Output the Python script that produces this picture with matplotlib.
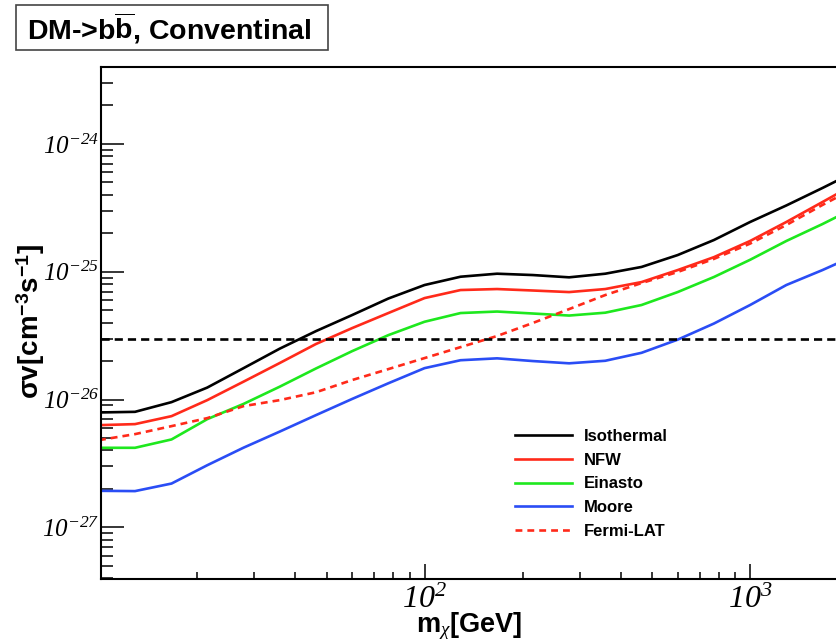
import numpy as np
import matplotlib
matplotlib.use('Agg')
from matplotlib import pyplot as plt
from matplotlib.patches import Rectangle

plt.rcParams['font.family'] = ['Liberation Sans', 'DejaVu Sans']
plt.rcParams['mathtext.fontset'] = 'custom'
plt.rcParams['mathtext.rm'] = 'Liberation Serif:italic'
plt.rcParams['mathtext.bf'] = 'Liberation Sans:bold'
plt.rcParams['mathtext.it'] = 'Liberation Serif:italic'

# DM mass points [GeV]
mass = [10, 12.9, 16.7, 21.5, 27.8, 35.9, 46.4, 59.9, 77.4, 100, 129, 167,
        215, 278, 359, 464, 599, 774, 1000, 1292, 1668, 2154]

# <sigma v> limits [cm^3 s^-1]
isothermal = [7.92e-27, 8.01e-27, 9.54e-27, 1.24e-26, 1.76e-26, 2.50e-26, 3.43e-26,
              4.58e-26, 6.17e-26, 7.87e-26, 9.14e-26, 9.65e-26, 9.42e-26, 9.04e-26,
              9.65e-26, 1.09e-25, 1.35e-25, 1.77e-25, 2.45e-25, 3.30e-25, 4.52e-25, 6.26e-25]
nfw = [6.30e-27, 6.42e-27, 7.41e-27, 9.89e-27, 1.38e-26, 1.93e-26, 2.72e-26,
       3.62e-26, 4.75e-26, 6.22e-26, 7.19e-26, 7.32e-26, 7.13e-26, 6.93e-26,
       7.32e-26, 8.30e-26, 1.03e-25, 1.30e-25, 1.74e-25, 2.45e-25, 3.51e-25, 5.04e-25]
einasto = [4.19e-27, 4.19e-27, 4.87e-27, 7.02e-27, 9.24e-27, 1.26e-26, 1.75e-26,
           2.39e-26, 3.19e-26, 4.06e-26, 4.75e-26, 4.88e-26, 4.71e-26, 4.54e-26,
           4.78e-26, 5.49e-26, 6.93e-26, 9.09e-26, 1.24e-25, 1.74e-25, 2.36e-25, 3.27e-25]
moore = [1.93e-27, 1.92e-27, 2.20e-27, 3.06e-27, 4.20e-27, 5.61e-27, 7.55e-27,
         1.01e-26, 1.34e-26, 1.76e-26, 2.03e-26, 2.10e-26, 2.00e-26, 1.92e-26,
         2.01e-26, 2.32e-26, 2.94e-26, 3.93e-26, 5.49e-26, 7.87e-26, 1.03e-25, 1.38e-25]
fermi = [4.81e-27, 5.36e-27, 6.19e-27, 7.15e-27, 8.88e-27, 9.89e-27, 1.14e-26,
         1.42e-26, 1.73e-26, 2.11e-26, 2.57e-26, 3.14e-26, 3.97e-26, 5.10e-26,
         6.57e-26, 8.15e-26, 9.95e-26, 1.26e-25, 1.66e-25, 2.32e-25, 3.33e-25, 4.69e-25]
thermal = 3e-26

yticks = [1e-27, 1e-26, 1e-25, 1e-24]
ylabels = ['-27', '-26', '-25', '-24']
xticks = [100, 1000]
xlabels = ['2', '3']

fig = plt.figure(figsize=(8.37, 6.44), dpi=100)
ax = fig.add_axes([100.7/837, 1-579/644, 1-100.7/837, (579-67)/644])

lw = 1.9
ax.plot(mass, isothermal, '-', color='black', lw=lw, label='Isothermal')
ax.plot(mass, nfw, '-', color='#ff2a1a', lw=lw, label='NFW')
ax.plot(mass, einasto, '-', color='#1ee81e', lw=lw, label='Einasto')
ax.plot(mass, moore, '-', color='#2a4df5', lw=lw, label='Moore')
ax.plot(mass, fermi, '--', color='#ff2a1a', lw=lw, dashes=(2.6, 1.9), label='Fermi-LAT')
ax.axhline(thermal, color='black', lw=lw, ls='--', dashes=(3.1, 1.9))

ax.set_xscale('log')
ax.set_yscale('log')
ax.set_xlim(10.12, 1849)
ax.set_ylim(3.94e-28, 4.0e-24)

ax.set_yticks(yticks)
ax.set_yticklabels([r'$10^{%s}$' % s for s in ylabels])
ax.set_xticks(xticks)
ax.set_xticklabels([r'$10^{%s}$' % s for s in xlabels])
ax.yaxis.set_minor_formatter(matplotlib.ticker.NullFormatter())
ax.xaxis.set_minor_formatter(matplotlib.ticker.NullFormatter())
ax.tick_params(axis='y', which='major', direction='in', length=16.5, width=1.1, labelsize=18, pad=1)
ax.tick_params(axis='y', which='minor', direction='in', length=8.5, width=1.1)
ax.tick_params(axis='x', which='major', direction='in', length=11, width=1.1, labelsize=23, pad=4)
ax.tick_params(axis='x', which='minor', direction='in', length=5, width=1.1)
ax.spines['right'].set_visible(False)
for s in ['left', 'bottom', 'top']:
    ax.spines[s].set_linewidth(1.5)

fig.text(416/837, 1-632/644, r'm$_{\mathit{χ}}$[GeV]', fontsize=19.5, fontweight='bold',
         ha='left', va='baseline')
fig.text(31/837, 1-322/644, r'σv[cm$^{\mathbf{-3}}$s$^{\mathbf{-1}}$]', fontsize=20,
         fontweight='bold', rotation=90, ha='center', va='center')

fig.patches.append(Rectangle((15.7/837, 1-50/644), 312/837, 45/644, transform=fig.transFigure,
                             fill=False, edgecolor='#444444', lw=1.2))
fig.text(27/837, 1-40/644, r'DM->b$\overline{\mathbf{b}}$, Conventinal', fontsize=20.5,
         fontweight='bold', ha='left', va='baseline')

ax.legend(loc='upper left', bbox_to_anchor=(515/837, 1-429/644), bbox_transform=fig.transFigure,
          frameon=False, prop={'weight': 'bold', 'size': 12}, handlelength=3.43,
          handletextpad=0.73, labelspacing=0.52, borderpad=0, borderaxespad=0)

fig.savefig('out.png', dpi=100)
